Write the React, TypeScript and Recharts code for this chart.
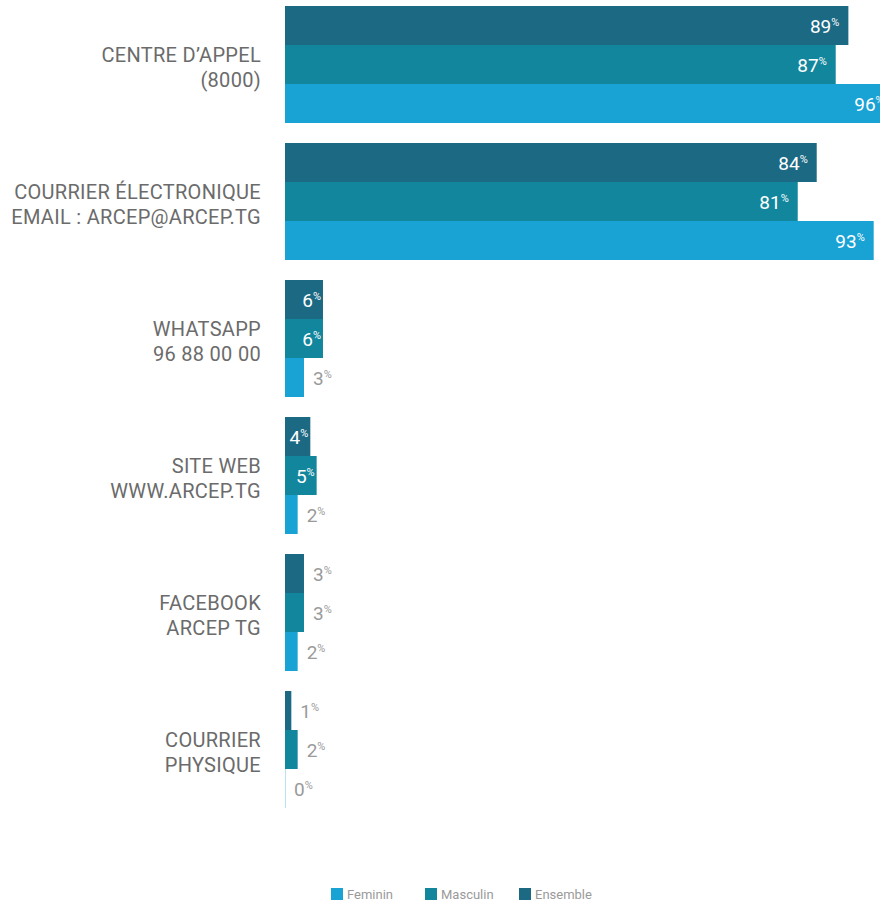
import { Bar, BarChart, LabelList, Legend, XAxis, YAxis } from 'recharts';

const categories = [
    'CENTRE D’APPEL\n(8000)',
    'COURRIER ÉLECTRONIQUE\nEMAIL : ARCEP@ARCEP.TG',
    'WHATSAPP\n96 88 00 00',
    'SITE WEB\nWWW.ARCEP.TG',
    'FACEBOOK\nARCEP TG',
    'COURRIER\nPHYSIQUE',
];
const ensemble = [89, 84, 6, 4, 3, 1];
const masculin = [87, 81, 6, 5, 3, 2];
const feminin = [96, 93, 3, 2, 2, 0];

const data = categories.map((name, i) => ({
    name,
    ensemble: ensemble[i],
    masculin: masculin[i],
    feminin: feminin[i],
}));

const COLORS = {
    feminin: '#19a2d4',
    masculin: '#12869d',
    ensemble: '#1c6984',
};

const FONT = 'Roboto, "Noto Sans", sans-serif';

function CategoryTick({ x, y, payload }: any) {
    const lines = String(payload.value).split('\n');
    const start = y + 3 - ((lines.length - 1) * 25) / 2;
    return (
        <text x={x} y={start} textAnchor="end" fill="#6b6b6b" fontSize={20} letterSpacing={0.3} fontFamily={FONT}>
            {lines.map((line, i) => (
                <tspan key={i} x={x} y={start + i * 25} dominantBaseline="central">
                    {line}
                </tspan>
            ))}
        </text>
    );
}

function ValueLabel({ x, y, width, height, value }: any) {
    const inside = value >= 4;
    const pad = width < 60 ? 2 : 9;
    const tx = inside ? x + width - pad : x + width + 9;
    const cy = y + height / 2 + 7;
    return (
        <text
            x={tx}
            y={cy}
            textAnchor={inside ? 'end' : 'start'}
            fill={inside ? '#ffffff' : '#9a9a9a'}
            fontSize={19}
            fontFamily={FONT}
        >
            {value}
            <tspan fontSize={11} dy={-7}>%</tspan>
        </text>
    );
}

function BarShape({ x, y, width, height, fill, value }: any) {
    const v = Array.isArray(value) ? value[1] - value[0] : value;
    if (!v) {
        return <rect x={x} y={y} width={1} height={height} fill={fill} opacity={0.3} />;
    }
    return <rect x={x} y={y} width={width} height={height} fill={fill} />;
}

function LegendContent() {
    const items = [
        { key: 'feminin', label: 'Feminin' },
        { key: 'masculin', label: 'Masculin' },
        { key: 'ensemble', label: 'Ensemble' },
    ];
    return (
        <div style={{ display: 'flex', paddingLeft: 331, height: 20, alignItems: 'center' }}>
            {items.map((it) => (
                <div key={it.key} style={{ display: 'flex', alignItems: 'center', width: 94 }}>
                    <span
                        style={{
                            display: 'inline-block',
                            width: 12,
                            height: 12,
                            background: (COLORS as any)[it.key],
                            marginRight: 4,
                        }}
                    />
                    <span style={{ fontSize: 13, color: '#9a9a9a', fontFamily: FONT }}>{it.label}</span>
                </div>
            ))}
        </div>
    );
}

export default function App() {
    return (
        <div
            style={{
                position: 'fixed',
                top: 0,
                left: 0,
                width: 880,
                height: 905,
                overflow: 'hidden',
                background: '#fff',
            }}
        >
            <div style={{ position: 'absolute', top: -4, left: 0 }}>
                <BarChart
                    width={918}
                    height={909}
                    data={data}
                    layout="vertical"
                    margin={{ top: 0, right: 0, bottom: 67, left: 0 }}
                    barCategoryGap={10}
                    barGap={0}
                    style={{ fontFamily: FONT }}
                >
                    <XAxis type="number" domain={[0, 100]} hide />
                    <YAxis
                        type="category"
                        dataKey="name"
                        width={285}
                        axisLine={false}
                        tickLine={false}
                        tickSize={0}
                        tickMargin={24}
                        tick={<CategoryTick />}
                        interval={0}
                    />
                    <Legend
                        verticalAlign="bottom"
                        content={<LegendContent />}
                        wrapperStyle={{ top: 888, left: 0, width: 880, bottom: 'auto' }}
                    />
                    <Bar dataKey="ensemble" name="Ensemble" fill={COLORS.ensemble} isAnimationActive={false} shape={<BarShape />}>
                        <LabelList dataKey="ensemble" content={<ValueLabel />} />
                    </Bar>
                    <Bar dataKey="masculin" name="Masculin" fill={COLORS.masculin} isAnimationActive={false} shape={<BarShape />}>
                        <LabelList dataKey="masculin" content={<ValueLabel />} />
                    </Bar>
                    <Bar dataKey="feminin" name="Feminin" fill={COLORS.feminin} isAnimationActive={false} shape={<BarShape />}>
                        <LabelList dataKey="feminin" content={<ValueLabel />} />
                    </Bar>
                </BarChart>
            </div>
        </div>
    );
}
